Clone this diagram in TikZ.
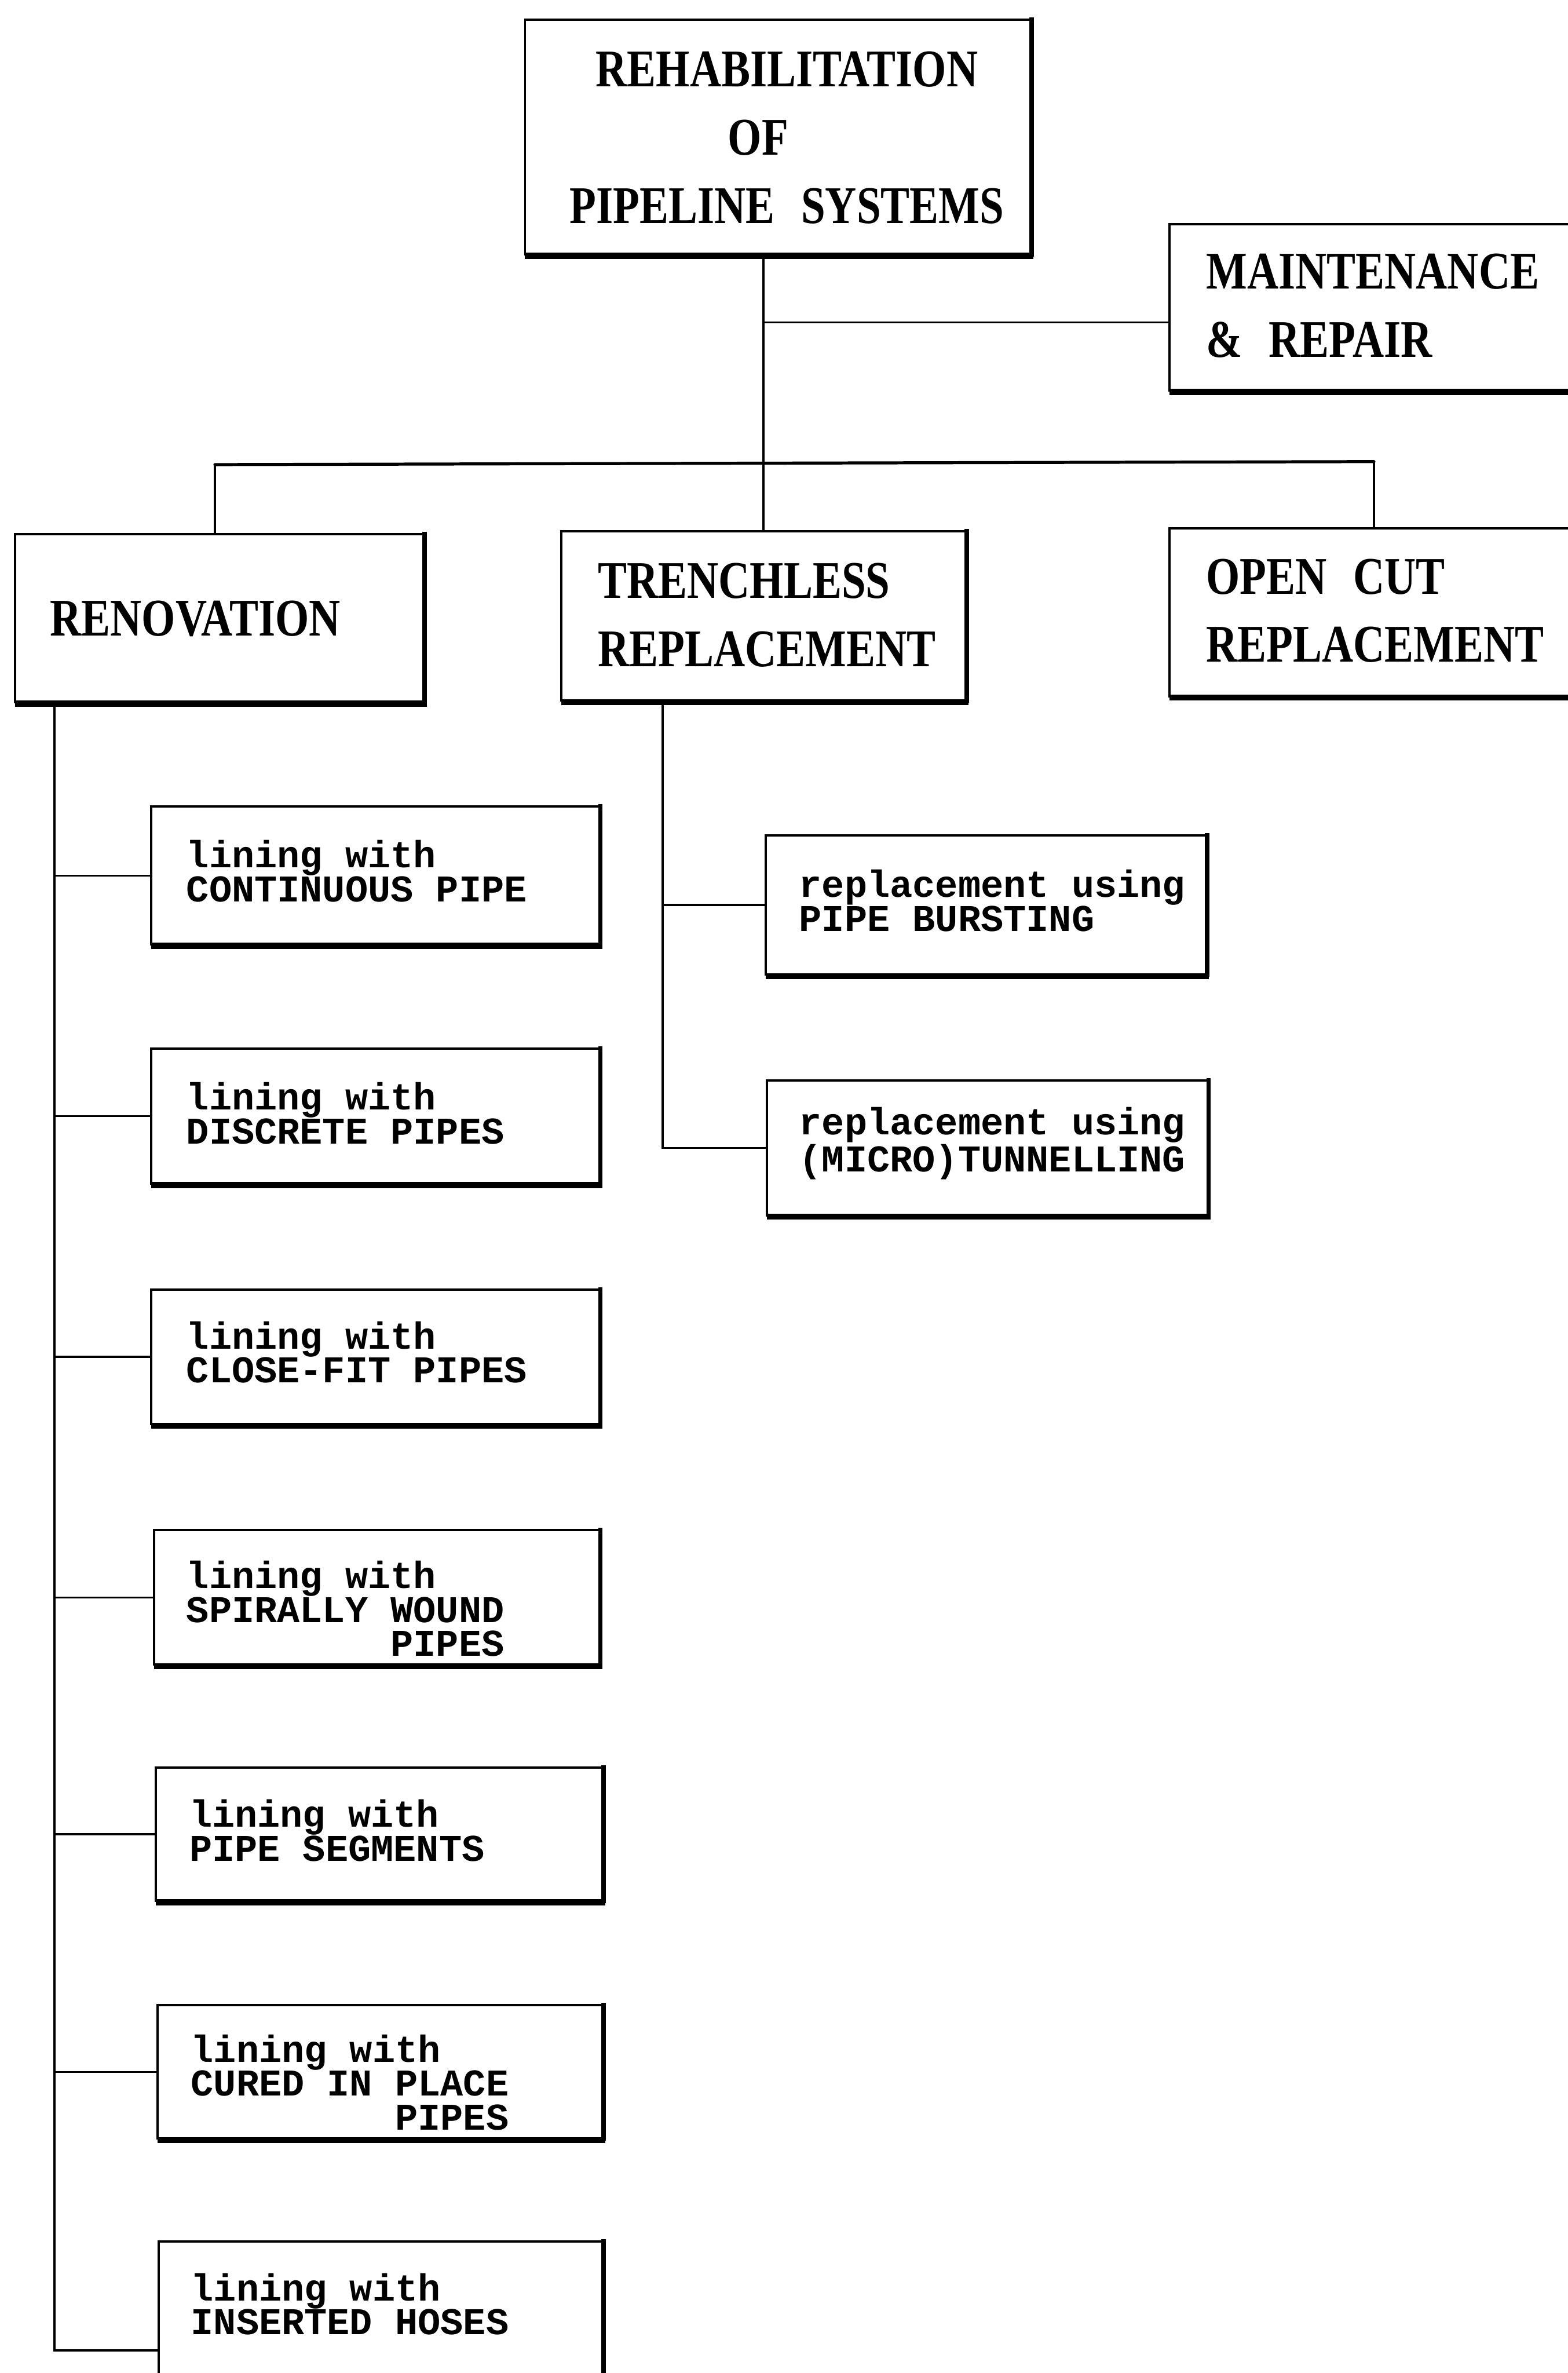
\documentclass[tikz,border=0pt]{standalone}
\usepackage{fontspec}
\newfontfamily\myBigFace{Liberation Serif}[FakeStretch=0.82]
\newfontfamily\mySmallFace{Liberation Mono}
\newcommand\bigtxt{\myBigFace\bfseries\fontsize{35}{45}\selectfont\spaceskip=0.5em plus 0.1em}
\newcommand\smalltxt{\mySmallFace\bfseries\fontsize{25}{22.5}\selectfont}
\begin{document}
\begin{tikzpicture}[x=1pt,y=-1pt,
  box/.style={draw, line width=1.5pt, outer sep=0pt, inner sep=0pt, anchor=north west},
  bigtext/.style={font=\bigtxt, align=left, anchor=west, inner sep=0pt},
  smalltext/.style={font=\smalltxt, align=left, anchor=west, inner sep=0pt},
  conn/.style={line width=1.3pt},
  bus/.style={line width=2pt, line cap=round},
  botedge/.style={line width=4pt},
  rgtedge/.style={line width=3pt, line cap=rect}]
\useasboundingbox (0,0) rectangle (1036,1568);

% boxes
\node[box, minimum width=334pt, minimum height=155pt] (top) at (347,13) {};
\node[box, minimum width=300pt, minimum height=110pt] (maint) at (773,148) {};
\node[box, minimum width=270pt, minimum height=111pt] (renov) at (10,353) {};
\node[box, minimum width=267pt, minimum height=112pt] (trench) at (371,351) {};
\node[box, minimum width=300pt, minimum height=111pt] (opencut) at (773,349) {};
\node[box, minimum width=291pt, minimum height=92pt] (burst) at (506,552) {};
\node[box, minimum width=291pt, minimum height=89pt] (micro) at (507,714) {};
\node[box, minimum width=296pt, minimum height=91pt] (L1) at (100,533) {};
\node[box, minimum width=296pt, minimum height=89pt] (L2) at (100,693) {};
\node[box, minimum width=296pt, minimum height=89pt] (L3) at (100,852) {};
\node[box, minimum width=294pt, minimum height=89pt] (L4) at (102,1011) {};
\node[box, minimum width=295pt, minimum height=88pt] (L5) at (103,1168) {};
\node[box, minimum width=294pt, minimum height=88pt] (L6) at (104,1325) {};
\node[box, minimum width=293pt, minimum height=144pt] (L7) at (105,1481) {};

% texts
\node[bigtext, align=center, anchor=center] (ttop) at (520,91)
  {REHABILITATION\\\hspace*{-38pt}OF\\PIPELINE SYSTEMS};
\node[bigtext] (tmaint) at (797,202) {MAINTENANCE\\\& REPAIR};
\node[bigtext] (trenov) at (33,409) {RENOVATION};
\node[bigtext] (ttrench) at (395,406.5) {TRENCHLESS\\REPLACEMENT};
\node[bigtext] (topencut) at (797,403.5) {OPEN CUT\\REPLACEMENT};

\node[smalltext] (tburst) at (528,595) {replacement using\\PIPE BURSTING};
\node[smalltext] (tmicro) at (528,755.5) {replacement using\\(MICRO)TUNNELLING};
\node[smalltext] (tL1) at (123,575.5) {lining with\\CONTINUOUS PIPE};
\node[smalltext] (tL2) at (123,735.5) {lining with\\DISCRETE PIPES};
\node[smalltext] (tL3) at (123,893.5) {lining with\\CLOSE-FIT PIPES};
\node[smalltext] (tL4) at (123,1063) {lining with\\SPIRALLY WOUND\\\hspace*{5.4em}PIPES};
\node[smalltext] (tL5) at (125,1209.5) {lining with\\PIPE SEGMENTS};
\node[smalltext] (tL6) at (126,1376) {lining with\\CURED IN PLACE\\\hspace*{5.4em}PIPES};
\node[smalltext] (tL7) at (126,1522.5) {lining with\\INSERTED HOSES};

% heavy bottom / right edges
\foreach \n in {top,maint,renov,trench,opencut,burst,micro,L1,L2,L3,L4,L5,L6,L7} {
  \draw[botedge] ([yshift=-1pt]\n.south west) -- ([yshift=-1pt,xshift=2pt]\n.south east);
  \draw[rgtedge] ([xshift=0.75pt]\n.south east) -- ([xshift=0.75pt]\n.north east);
}

% connectors
\draw[conn] (top.south -| trench.north) -- (trench.north);
\coordinate (mj) at (504.5,213);
\draw[conn] (mj) -- (mj -| maint.west);

\coordinate (bl) at (142,307);
\coordinate (br) at (908,305);
\draw[bus] (bl) -- (br);
\draw[conn] (bl) -- (bl |- renov.north);
\draw[conn] (br) -- (br |- opencut.north);

\coordinate (rsp) at (36,464);
\draw[conn] (renov.south -| rsp) -- (rsp |- L7.west) -- (L7.west);
\foreach \n in {L1,L2,L3,L4,L5,L6} {
  \draw[conn] (rsp |- \n.west) -- (\n.west);
}

\coordinate (tsp) at (438,463);
\draw[conn] (trench.south -| tsp) -- (tsp |- micro.west) -- (micro.west);
\draw[conn] (tsp |- burst.west) -- (burst.west);
\end{tikzpicture}
\end{document}
